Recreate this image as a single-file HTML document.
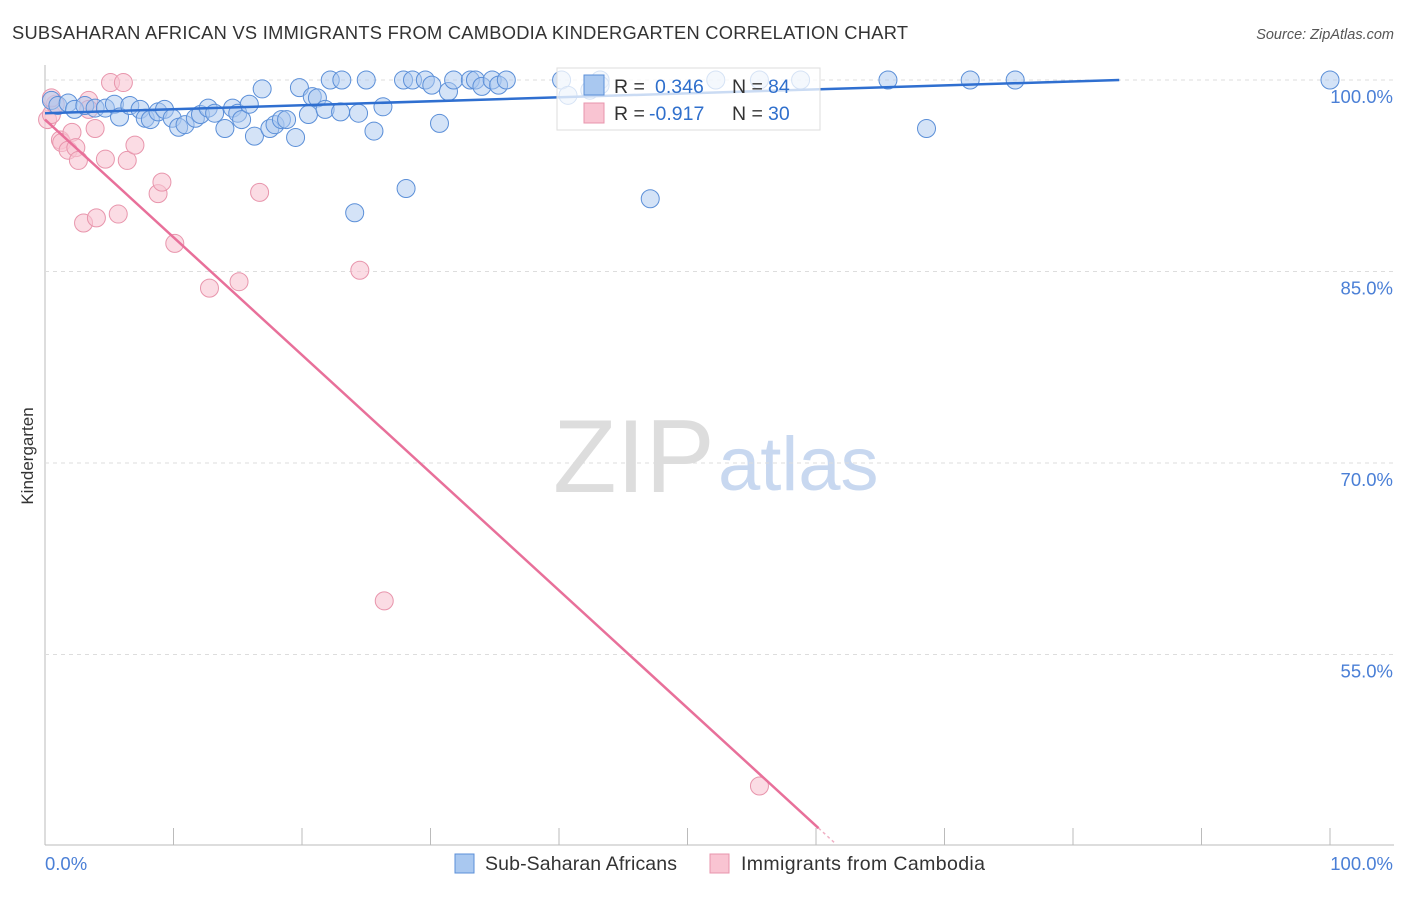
<!DOCTYPE html>
<html><head><meta charset="utf-8"><style>
body{margin:0;background:#fff;font-family:"Liberation Sans",sans-serif}
svg text{font-family:"Liberation Sans",sans-serif}
</style></head><body>
<svg id="c" width="1406" height="892">
<text x="12" y="39" font-size="18.3" fill="#333" textLength="896">SUBSAHARAN AFRICAN VS IMMIGRANTS FROM CAMBODIA KINDERGARTEN CORRELATION CHART</text>
<text x="1394" y="39" font-size="14.5" fill="#555" font-style="italic" text-anchor="end">Source: ZipAtlas.com</text>
<text x="33" y="456" font-size="17" fill="#333" transform="rotate(-90 33 456)" text-anchor="middle">Kindergarten</text>
<text x="553" y="492" font-size="104" fill="#ddd" font-family="Liberation Serif">ZIP</text>
<text x="718" y="490" font-size="76" fill="#c8d8f0">atlas</text>
<g id="grid"></g><g id="pts"></g><g id="lines"></g>
<g>
<rect x="557" y="68" width="263" height="62" fill="#fff" fill-opacity="0.75" stroke="#ddd"/>
<rect x="584" y="75" width="20" height="20" fill="#a9c8f0" stroke="#5b8fd8"/>
<text x="614" y="93" font-size="19.5" fill="#333">R =</text>
<text x="655" y="93" font-size="19.5" fill="#2f6fcc">0.346</text>
<text x="732" y="93" font-size="19.5" fill="#333">N =</text>
<text x="768" y="93" font-size="19.5" fill="#2f6fcc">84</text>
<rect x="584" y="103" width="20" height="20" fill="#f9c4d2" stroke="#e895ac"/>
<text x="614" y="120" font-size="19.5" fill="#333">R =</text>
<text x="649" y="120" font-size="19.5" fill="#2f6fcc">-0.917</text>
<text x="732" y="120" font-size="19.5" fill="#333">N =</text>
<text x="768" y="120" font-size="19.5" fill="#2f6fcc">30</text>
</g>
<g>
<rect x="455" y="854" width="19" height="19" fill="#a9c8f0" stroke="#5b8fd8"/>
<text x="485" y="870" font-size="19.5" fill="#333" textLength="192">Sub-Saharan Africans</text>
<rect x="710" y="854" width="19" height="19" fill="#f9c4d2" stroke="#e895ac"/>
<text x="741" y="870" font-size="19.5" fill="#333" textLength="244">Immigrants from Cambodia</text>
</g>
</svg>
<script>
const yTicks=[100,85,70,55];
const xLabels=["0.0%","100.0%"];
const blueX=[0.5,1,1.8,2.3,3.1,3.9,4.7,5.4,5.8,6.6,7.4,7.8,8.2,8.8,9.3,9.9,10.4,10.9,11.7,12.1,12.7,13.2,14,14.6,15,15.3,15.9,16.3,16.9,17.5,17.9,18.4,18.8,19.5,19.8,20.5,20.8,21.2,21.8,22.2,23,23.1,24.4,24.1,25,25.6,26.3,27.9,28.1,28.6,29.6,30.1,30.7,31.4,31.8,33.1,33.5,34,34.8,35.3,35.9,40.2,40.7,43.2,47.1,52.2,55.6,58.8,65.6,68.6,72,75.5,100,42.4,43.2];
const blueY=[98.4,98.0,98.2,97.7,98.0,97.8,97.8,98.1,97.1,98.0,97.7,97.0,96.9,97.5,97.7,97.0,96.3,96.5,97.0,97.3,97.8,97.4,96.2,97.8,97.4,96.9,98.1,95.6,99.3,96.2,96.5,96.9,96.9,95.5,99.4,97.3,98.7,98.6,97.7,100,97.5,100,97.4,89.6,100,96.0,97.9,100,91.5,100,100,99.6,96.6,99.1,100,100,100,99.5,100,99.6,100,100,98.8,100,90.7,100,100,100,100,96.2,100,100,100,99.2,99.6];
const pinkX=[0.2,0.5,0.8,1.2,1.3,1.8,2.1,2.4,2.6,3,3.4,3.9,4,4.7,5.1,5.7,6.1,6.4,7,8.8,9.1,10.1,12.8,15.1,16.7,24.5,26.4,55.6,0.5,3.4];
const pinkY=[96.9,97.3,98.1,95.3,95.1,94.5,95.9,94.7,93.7,88.8,98.4,96.2,89.2,93.8,99.8,89.5,99.8,93.7,94.9,91.1,92,87.2,83.7,84.2,91.2,85.1,59.2,44.7,98.6,97.7];
const blueLine=[[0,97.4],[83.6,100]];
const pinkLine=[[0,96.9],[60.2,41.4]];
const pinkExt=[[60.2,41.4],[61.5,40.2]];
const X=v=>45+v*12.85, Y=v=>80+(100-v)*12.767;
const NS="http://www.w3.org/2000/svg";
function mk(t,a,p){const e=document.createElementNS(NS,t);for(const k in a)e.setAttribute(k,a[k]);p.appendChild(e);return e;}
const g=document.getElementById('grid');
const ax=mk('line',{x1:45,y1:65,x2:45,y2:845,stroke:'#bbb'},g);


const bx=mk('line',{x1:45,y1:845,x2:1394,y2:845,stroke:'#bbb'},g);


for(let i=1;i<=10;i++){const t=mk('line',{x1:45+i*128.5,y1:828,x2:45+i*128.5,y2:845,stroke:'#bbb'},g);

}
yTicks.forEach(v=>{const l=mk('line',{x1:45,y1:Y(v),x2:1394,y2:Y(v),stroke:'#ddd','stroke-dasharray':'4,4'},g);


const t=mk('text',{x:1393,y:Y(v)+23,'font-size':18.5,fill:'#4a7fd6','text-anchor':'end'},g);t.textContent=v.toFixed(1)+'%';

});
xLabels.forEach((s,i)=>{const t=mk('text',{x:i?1393:45,y:870,'font-size':18.5,fill:'#4a7fd6','text-anchor':i?'end':'start'},g);t.textContent=s;

});
const p=document.getElementById('pts');
pinkX.forEach((x,i)=>{const c=mk('circle',{cx:X(x),cy:Y(pinkY[i]),r:9,fill:'#f9c4d2','fill-opacity':0.6,stroke:'#e895ac'},p);

});
blueX.forEach((x,i)=>{const c=mk('circle',{cx:X(x),cy:Y(blueY[i]),r:9,fill:'#a9c8f0','fill-opacity':0.5,stroke:'#5b8fd8'},p);

});
const L=document.getElementById('lines');
const bl=mk('line',{x1:X(blueLine[0][0]),y1:Y(blueLine[0][1]),x2:X(blueLine[1][0]),y2:Y(blueLine[1][1]),stroke:'#2f6fd0','stroke-width':2.5},L);


const pl=mk('line',{x1:X(pinkLine[0][0]),y1:Y(pinkLine[0][1]),x2:X(pinkLine[1][0]),y2:Y(pinkLine[1][1]),stroke:'#e8709a','stroke-width':2.5},L);


const pe=mk('line',{x1:X(pinkExt[0][0]),y1:Y(pinkExt[0][1]),x2:X(pinkExt[1][0]),y2:Y(pinkExt[1][1]),stroke:'#f0b0c4','stroke-width':1.5,'stroke-dasharray':'3,3'},L);


</script>
</body></html>
